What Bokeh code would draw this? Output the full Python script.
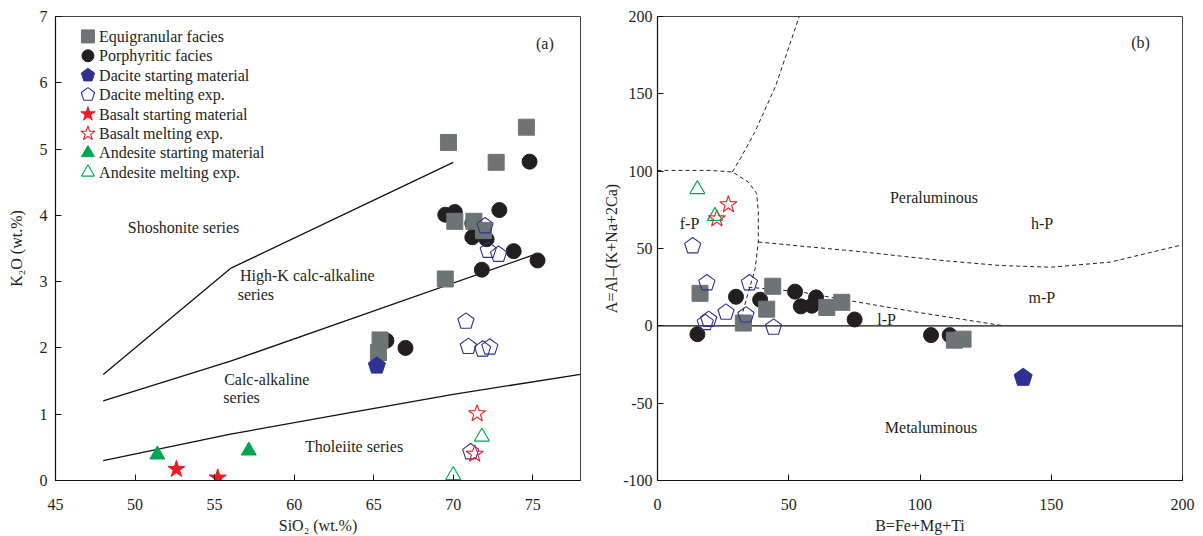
import math
from bokeh.plotting import figure
from bokeh.layouts import row
from bokeh.models import Range1d, FixedTicker
from bokeh.core.properties import value
from bokeh.embed import file_html
from bokeh.resources import INLINE

FONT = "Liberation Serif"
INK = "#231f20"
GRAY = "#6d7476"
NAVY = "#2e3192"
RED = "#ed1c24"
GREEN = "#00a651"

# ---------------- Panel (a): SiO2 vs K2O ----------------
eq_sio2 = [69.7, 74.6, 72.7, 70.1, 71.3, 71.9, 69.5, 65.4, 65.3]
eq_k2o = [5.10, 5.33, 4.80, 3.91, 3.91, 3.77, 3.04, 2.12, 1.93]
po_sio2 = [74.8, 69.5, 70.1, 72.9, 71.2, 71.2, 72.1, 73.8, 75.3, 71.8, 65.8, 67.0]
po_k2o = [4.81, 4.01, 4.05, 4.08, 3.88, 3.67, 3.64, 3.46, 3.32, 3.18, 2.11, 2.00]
dac_start_sio2 = [65.2]
dac_start_k2o = [1.73]
dac_melt_sio2 = [72.0, 72.2, 72.85, 70.8, 70.95, 71.85, 72.3, 71.1]
dac_melt_k2o = [3.84, 3.47, 3.41, 2.40, 2.02, 1.98, 2.01, 0.43]
bas_start_sio2 = [52.6, 55.2]
bas_start_k2o = [0.17, 0.04]
bas_melt_sio2 = [71.5, 71.35]
bas_melt_k2o = [1.01, 0.40]
and_start_sio2 = [51.4, 57.15]
and_start_k2o = [0.39, 0.45]
and_melt_sio2 = [71.8, 70.0]
and_melt_k2o = [0.66, 0.08]

# series boundaries
sho_x = [48, 56, 70]
sho_y = [1.6, 3.2, 4.8]
hk_x = [48, 56, 75]
hk_y = [1.2, 1.8, 3.4]
th_x = [48, 56, 63, 70, 78]
th_y = [0.3, 0.7, 1.0, 1.3, 1.6]

a_labels = ["Shoshonite series", "High-K calc-alkaline", "series",
            "Calc-alkaline", "series", "Tholeiite series", "(a)"]
a_lab_x = [49.54, 56.6, 56.45, 55.6, 55.55, 60.68, 75.2]
a_lab_y = [3.82, 3.09, 2.81, 1.52, 1.25, 0.51, 6.59]

legend_labels = ["Equigranular facies", "Porphyritic facies",
                 "Dacite starting material", "Dacite melting exp.",
                 "Basalt starting material", "Basalt melting exp.",
                 "Andesite starting material", "Andesite melting exp."]

# ---------------- Panel (b): A-B diagram ----------------
eq_B = [16.2, 43.9, 41.6, 64.5, 70.2, 32.7, 113.1, 116.4]
eq_A = [21.0, 25.6, 10.8, 11.9, 15.2, 1.8, -9.3, -8.6]
po_B = [29.9, 39.1, 52.4, 60.4, 54.6, 58.8, 75.1, 15.2, 104.2, 111.3]
po_A = [18.8, 16.9, 22.1, 18.4, 12.6, 13.0, 4.1, -5.4, -6.0, -6.0]
dac_start_B = [139.3]
dac_start_A = [-33.5]
dac_melt_B = [13.4, 18.8, 35.0, 26.1, 33.7, 44.2, 18.2, 19.5]
dac_melt_A = [51.6, 27.7, 27.7, 8.7, 6.9, -1.0, 2.0, 4.0]
bas_melt_B = [27.0, 22.6]
bas_melt_A = [78.4, 69.3]
and_melt_B = [15.2, 21.9]
and_melt_A = [88.3, 71.0]

# field boundaries (Villaseca et al.)
fP_B = [0, 20, 28.5, 34.6, 37.8, 38.4, 38.4, 37.2, 34.6, 32.1, 31.0]
fP_A = [100.5, 100.5, 99.5, 93, 85.5, 73.6, 54.2, 36.8, 21.7, 6.5, 0]
top_B = [28.5, 31.5, 37, 45, 54]
top_A = [99.5, 108, 125, 155, 200]
hP_B = [38.4, 54.3, 77.2, 92.6, 110, 130.6, 149.7, 172.5, 200]
hP_A = [54.2, 51.6, 48.0, 45.1, 42.0, 39.0, 37.9, 41.2, 52.4]
lP_B = [34.6, 54.3, 73.4, 100, 132]
lP_A = [25.0, 22.0, 16.2, 8.5, 0]
zero_B = [0, 200]
zero_A = [0, 0]

b_labels = ["Peraluminous", "h-P", "m-P", "l-P", "f-P", "Metaluminous", "(b)"]
b_lab_x = [105.3, 146.5, 146.4, 87.3, 12.2, 104.2, 184.0]
b_lab_y = [83.0, 66.0, 18.6, 4.3, 66.0, -65.8, 183.0]

FW, FH = 525, 464


def pentagons(xs, ys, r, sx, sy):
    px, py = [], []
    for x, y in zip(xs, ys):
        vx, vy = [], []
        for k in range(5):
            t = math.radians(90 + 72 * k)
            vx.append(x + r * math.cos(t) / sx)
            vy.append(y + r * math.sin(t) / sy)
        px.append(vx)
        py.append(vy)
    return px, py


def style(p, xticks, yticks, ylab_standoff, ymaj_standoff):
    p.xgrid.visible = False
    p.ygrid.visible = False
    p.outline_line_color = "#444444"
    p.outline_line_width = 1
    for ax in (p.xaxis[0], p.yaxis[0]):
        ax.axis_line_color = "#111111"
        ax.axis_line_width = 1.2
        ax.major_tick_in = 6
        ax.major_tick_out = 0
        ax.major_tick_line_color = "#111111"
        ax.minor_tick_line_color = None
        ax.major_label_text_font = FONT
        ax.major_label_text_font_size = "16px"
        ax.major_label_text_color = INK
        ax.axis_label_text_font = FONT
        ax.axis_label_text_font_size = "16px"
        ax.axis_label_text_font_style = "normal"
        ax.axis_label_text_color = INK
    p.xaxis[0].ticker = FixedTicker(ticks=xticks)
    p.yaxis[0].ticker = FixedTicker(ticks=yticks)
    p.xaxis[0].major_label_standoff = 18
    p.xaxis[0].axis_label_standoff = 4
    p.yaxis[0].major_label_standoff = ymaj_standoff
    p.yaxis[0].axis_label_standoff = ylab_standoff
    p.yaxis[0].major_label_overrides = {t: str(t) for t in yticks}
    p.xaxis[0].major_label_overrides = {t: str(t) for t in xticks}


# ---------- figure (a) ----------
pa = figure(frame_width=FW, frame_height=FH, x_range=Range1d(45, 78), y_range=Range1d(0, 7),
            output_backend="svg", toolbar_location=None,
            min_border_left=55, min_border_right=12, min_border_top=16, min_border_bottom=55)
style(pa, [45, 50, 55, 60, 65, 70, 75], [0, 1, 2, 3, 4, 5, 6, 7], 12, 8)
pa.xaxis[0].axis_label = "SiO\u2082 (wt.%)"
pa.yaxis[0].axis_label = "K\u2082O (wt.%)"
sxa, sya = FW / 33.0, FH / 7.0

for bx, by in ((sho_x, sho_y), (hk_x, hk_y), (th_x, th_y)):
    pa.line(bx, by, line_color="#111111", line_width=1.3)

pa.text(a_lab_x, a_lab_y, text=a_labels, text_font=value(FONT), text_font_size="16px",
        text_color=INK, text_baseline="middle", text_align="left")

pa.scatter(po_sio2, po_k2o, marker="circle", size=15, fill_color=INK, line_color=INK)
pa.scatter(eq_sio2, eq_k2o, marker="square", size=16, fill_color=GRAY, line_color=GRAY)
xs, ys = pentagons(dac_start_sio2, dac_start_k2o, 9, sxa, sya)
pa.patches(xs, ys, fill_color=NAVY, line_color=NAVY)
xs, ys = pentagons(dac_melt_sio2, dac_melt_k2o, 8.5, sxa, sya)
pa.patches(xs, ys, fill_alpha=0, line_color=NAVY, line_width=1.1)
pa.scatter(bas_start_sio2, bas_start_k2o, marker="star", size=18, fill_color=RED, line_color=RED)
pa.scatter(bas_melt_sio2, bas_melt_k2o, marker="star", size=18, fill_alpha=0, line_color=RED, line_width=1.1)
pa.scatter(and_start_sio2, and_start_k2o, marker="triangle", size=15, fill_color=GREEN, line_color=GREEN)
pa.scatter(and_melt_sio2, and_melt_k2o, marker="triangle", size=15, fill_alpha=0, line_color=GREEN, line_width=1.1)

# legend (drawn with the same glyphs)
leg_mx = 47.04
leg_tx = 47.74
leg_y = [6.70 - 0.293 * i for i in range(len(legend_labels))]
pa.scatter([leg_mx], [leg_y[0]], marker="square", size=13, fill_color=GRAY, line_color=GRAY)
pa.scatter([leg_mx], [leg_y[1]], marker="circle", size=12, fill_color=INK, line_color=INK)
xs, ys = pentagons([leg_mx], [leg_y[2]], 7, sxa, sya)
pa.patches(xs, ys, fill_color=NAVY, line_color=NAVY)
xs, ys = pentagons([leg_mx], [leg_y[3]], 7, sxa, sya)
pa.patches(xs, ys, fill_alpha=0, line_color=NAVY, line_width=1.1)
pa.scatter([leg_mx], [leg_y[4]], marker="star", size=15, fill_color=RED, line_color=RED)
pa.scatter([leg_mx], [leg_y[5]], marker="star", size=15, fill_alpha=0, line_color=RED, line_width=1.1)
pa.scatter([leg_mx], [leg_y[6]], marker="triangle", size=13, fill_color=GREEN, line_color=GREEN)
pa.scatter([leg_mx], [leg_y[7]], marker="triangle", size=13, fill_alpha=0, line_color=GREEN, line_width=1.1)
pa.text([leg_tx] * len(legend_labels), leg_y, text=legend_labels, text_font=value(FONT),
        text_font_size="16px", text_color=INK, text_baseline="middle", text_align="left")

# ---------- figure (b) ----------
pb = figure(frame_width=FW, frame_height=FH, x_range=Range1d(0, 200), y_range=Range1d(-100, 200),
            output_backend="svg", toolbar_location=None,
            min_border_left=65, min_border_right=13, min_border_top=16, min_border_bottom=55)
style(pb, [0, 50, 100, 150, 200], [-100, -50, 0, 50, 100, 150, 200], 0, 5)
pb.xaxis[0].axis_label = "B=Fe+Mg+Ti"
pb.yaxis[0].axis_label = "A=Al\u2013(K+Na+2Ca)"
sxb, syb = FW / 200.0, FH / 300.0

pb.line(zero_B, zero_A, line_color="#111111", line_width=1.2)
for bx, by in ((fP_B, fP_A), (top_B, top_A), (hP_B, hP_A), (lP_B, lP_A)):
    pb.line(bx, by, line_color="#222222", line_width=1, line_dash="4 3")

pb.text(b_lab_x, b_lab_y, text=b_labels, text_font=value(FONT), text_font_size="16px",
        text_color=INK, text_baseline="middle", text_align="center")

pb.scatter(po_B, po_A, marker="circle", size=15, fill_color=INK, line_color=INK)
pb.scatter(eq_B, eq_A, marker="square", size=16, fill_color=GRAY, line_color=GRAY)
xs, ys = pentagons(dac_start_B, dac_start_A, 9.5, sxb, syb)
pb.patches(xs, ys, fill_color=NAVY, line_color=NAVY)
xs, ys = pentagons(dac_melt_B, dac_melt_A, 8.5, sxb, syb)
pb.patches(xs, ys, fill_alpha=0, line_color=NAVY, line_width=1.1)
pb.scatter(bas_melt_B, bas_melt_A, marker="star", size=18, fill_alpha=0, line_color=RED, line_width=1.1)
pb.scatter(and_melt_B, and_melt_A, marker="triangle", size=15, fill_alpha=0, line_color=GREEN, line_width=1.1)

layout = row(pa, pb)
open("out.html", "w").write(file_html(layout, INLINE))
